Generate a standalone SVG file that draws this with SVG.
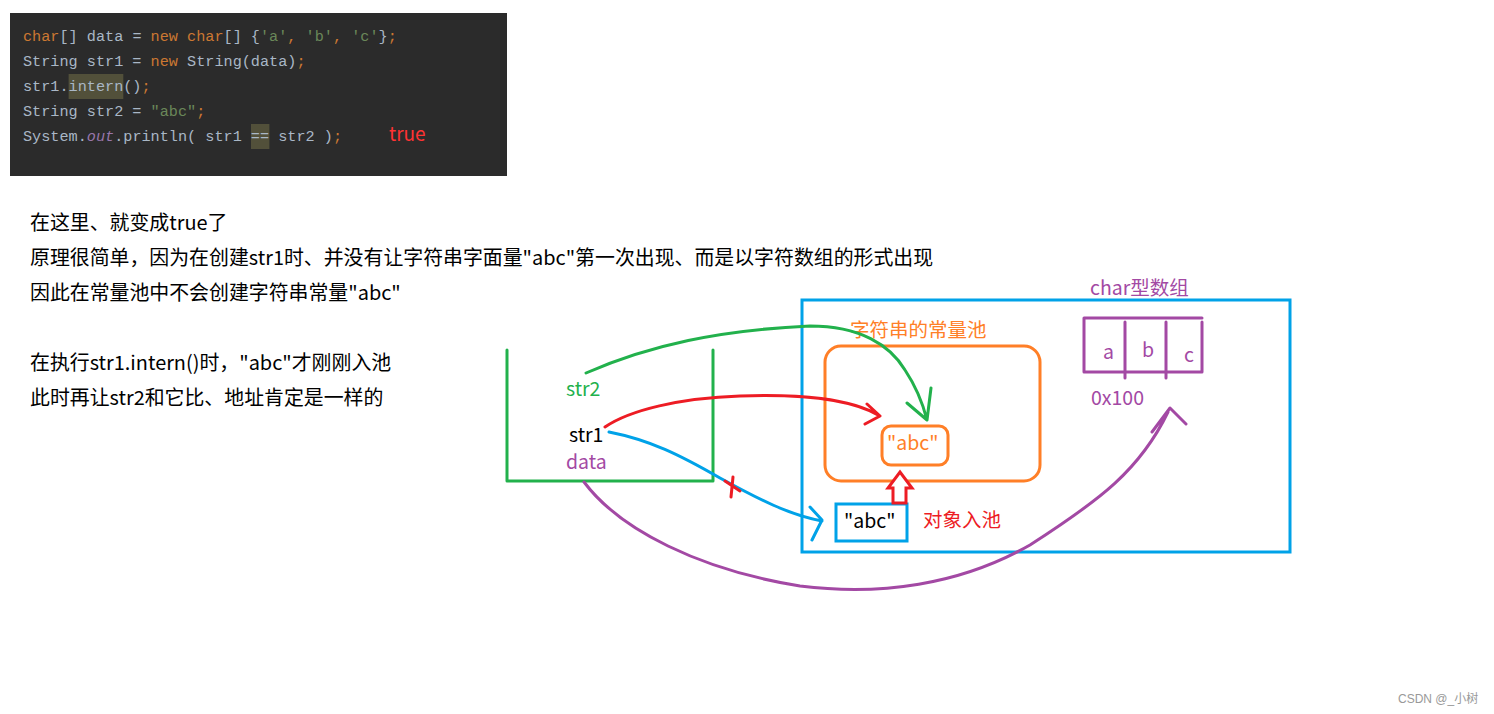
<svg xmlns="http://www.w3.org/2000/svg" width="1494" height="714" viewBox="0 0 1494 714">
<style>
.code{font-family:"Liberation Mono","DejaVu Sans Mono",monospace;font-size:15.2px;fill:#a9b7c6}
.kw{fill:#cc7832}.str{fill:#6a8759}.fld{fill:#9876aa;font-style:italic}
.para{font-family:"Noto Sans CJK SC",sans-serif;font-size:19.9px;fill:#000}
.lbl{font-family:"Noto Sans CJK SC",sans-serif;font-size:19.5px}
.hand{fill:none;stroke-width:3;stroke-linecap:round;stroke-linejoin:round}
.g{stroke:#22b14c}.r{stroke:#ed1c24}.b{stroke:#00a2e8}.p{stroke:#a349a4}.o{stroke:#ff7f27}
</style>
<rect width="1494" height="714" fill="#fff"/>
<g id="code">
<rect x="10" y="13" width="497" height="163" fill="#2b2b2b"/>
<rect x="68.6" y="74" width="54.7" height="25" fill="#52503a"/>
<rect x="251" y="124" width="18.4" height="25" fill="#52503a"/>
<text class="code" x="23" y="41" xml:space="preserve"><tspan class="kw">char</tspan>[] data = <tspan class="kw">new char</tspan>[] {<tspan class="str">'a'</tspan><tspan class="kw">, </tspan><tspan class="str">'b'</tspan><tspan class="kw">, </tspan><tspan class="str">'c'</tspan>}<tspan class="kw">;</tspan></text>
<text class="code" x="23" y="66" xml:space="preserve">String str1 = <tspan class="kw">new</tspan> String(data)<tspan class="kw">;</tspan></text>
<text class="code" x="23" y="91" xml:space="preserve">str1.intern()<tspan class="kw">;</tspan></text>
<text class="code" x="23" y="116" xml:space="preserve">String str2 = <tspan class="str">"abc"</tspan><tspan class="kw">;</tspan></text>
<text class="code" x="23" y="141" xml:space="preserve">System.<tspan class="fld">out</tspan>.println( str1 == str2 )<tspan class="kw">;</tspan></text>
<text x="389" y="141" font-family="'Noto Sans CJK SC',sans-serif" font-size="19" fill="#ff3333">true</text>
</g>
<g id="explanation">
<text class="para" x="30" y="230">在这里、就变成true了</text>
<text class="para" x="30" y="265">原理很简单，因为在创建str1时、并没有让字符串字面量"abc"第一次出现、而是以字符数组的形式出现</text>
<text class="para" x="30" y="300">因此在常量池中不会创建字符串常量"abc"</text>
<text class="para" x="30" y="370">在执行str1.intern()时，"abc"才刚刚入池</text>
<text class="para" x="30" y="405">此时再让str2和它比、地址肯定是一样的</text>
</g>
<g id="stack">
<path class="hand g" d="M507,350 V481 H713 V350" stroke-linecap="butt"/>
<text class="lbl" x="566" y="396" fill="#22b14c">str2</text>
<text class="lbl" x="569" y="442" fill="#000">str1</text>
<text class="lbl" x="566" y="469" fill="#a349a4">data</text>
</g>
<g id="heap">
<rect x="802" y="300" width="488" height="252" fill="none" stroke="#00a2e8" stroke-width="3"/>
</g>
<g id="string-pool">
<rect x="825" y="346" width="215" height="135" rx="16" fill="none" stroke="#ff7f27" stroke-width="3"/>
<text class="lbl" x="850" y="337" fill="#ff7f27">字符串的常量池</text>
</g>
<g id="pool-abc">
<rect x="882" y="426" width="66" height="39" rx="9" fill="none" stroke="#ff7f27" stroke-width="3"/>
<text class="lbl" x="887" y="450" fill="#ff7f27">"abc"</text>
</g>
<g id="heap-abc">
<rect x="836" y="504" width="71" height="37" fill="none" stroke="#00a2e8" stroke-width="3"/>
<text class="lbl" x="844" y="528" fill="#000">"abc"</text>
<text class="lbl" x="923" y="527" fill="#ed1c24">对象入池</text>
</g>
<g id="char-array">
<text class="lbl" x="1090" y="295" fill="#a349a4">char型数组</text>
<path class="hand p" d="M1084,318 H1202 M1084,318 V372 H1202 V322 M1125,322 V378 M1166,322 V378" stroke-linecap="butt"/>
<text class="lbl" x="1103" y="359" fill="#a349a4">a</text>
<text class="lbl" x="1142" y="357" fill="#a349a4">b</text>
<text class="lbl" x="1184" y="362" fill="#a349a4">c</text>
<text class="lbl" x="1091" y="405" fill="#a349a4">0x100</text>
</g>
<g id="connectors">
<path class="hand g" d="M586,373 C650,345 720,330 810,326 C860,326 890,345 905,370 C915,385 922,400 927,420 M907,403 L927,420 L931,388"/>
<path class="hand r" d="M605,427 C630,410 680,398 740,396 C800,394 850,398 880,416 M867,404 L880,416 L865,424"/>
<path class="hand b" d="M609,432 C650,440 680,455 720,478 C760,500 790,515 822,521 M810,507 L822,520 L812,540"/>
<path class="hand r" d="M725,481 L740,491 M733,477 L731,497"/>
<path class="hand p" d="M584,482 C620,530 700,570 800,586 C880,596 960,585 1030,545 C1100,500 1140,470 1168,412 M1152,432 L1170,408 L1186,424"/>
<path d="M893,503 V488 H888 L900,472 L912,488 H906 V503 Z" fill="#fff" stroke="#ed1c24" stroke-width="3" stroke-linejoin="miter"/>
</g>
<text x="1398" y="703" font-family="'Liberation Sans','Noto Sans CJK SC',sans-serif" font-size="12" fill="#999">CSDN @_小树</text>
</svg>
